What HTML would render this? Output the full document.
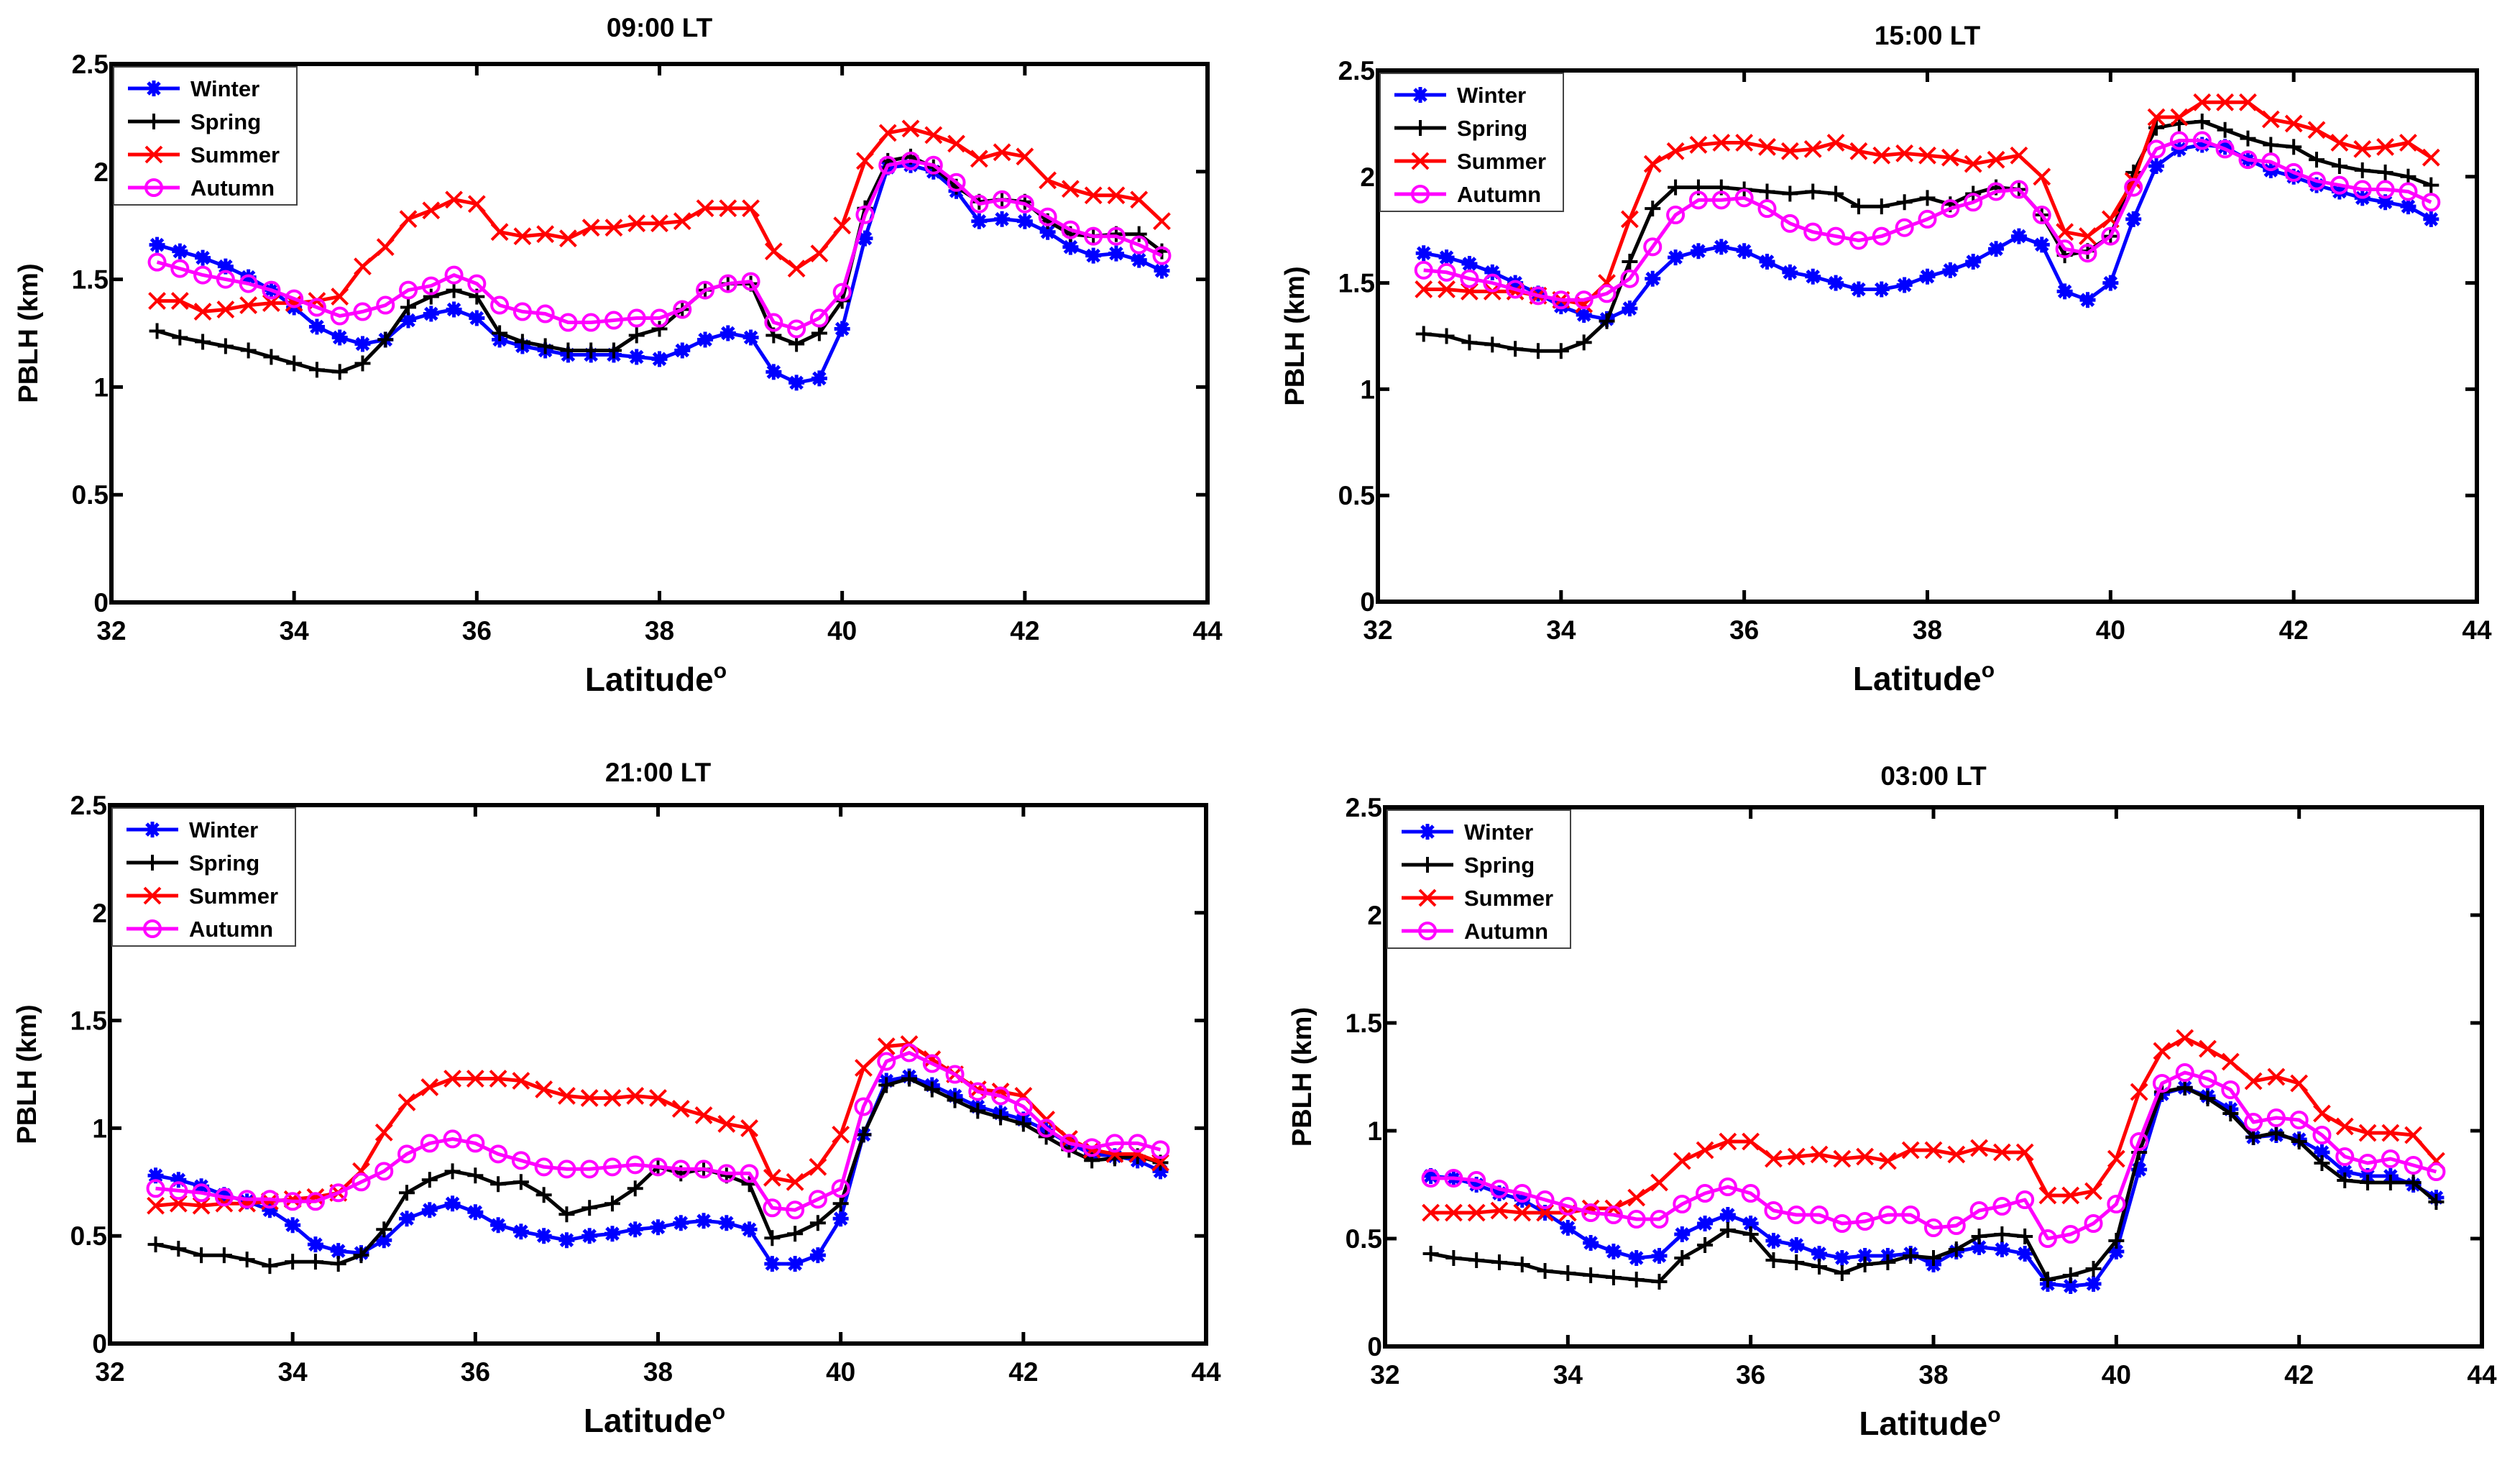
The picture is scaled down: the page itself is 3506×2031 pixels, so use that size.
<!DOCTYPE html>
<html><head><meta charset="utf-8"><style>
html,body{margin:0;padding:0;background:#fff;}
svg{display:block;font-family:"Liberation Sans",Arial,sans-serif;font-weight:bold;}
</style></head><body>
<svg id="fig" width="3506" height="2031" viewBox="0 0 3506 2031" xmlns="http://www.w3.org/2000/svg"></svg>
<script>
const latitudes = [];
for (let i = 0; i < 45; i++) latitudes.push(32.5 + i * 0.25);
const xTicks = [32,34,36,38,40,42,44];
const yTicks = [0,0.5,1,1.5,2,2.5];
const yTickLabels = ["0","0.5","1","1.5","2","2.5"];
const seasons = ["Winter","Spring","Summer","Autumn"];
const panelTitles = ["09:00 LT","15:00 LT","21:00 LT","03:00 LT"];

const p1Winter=[1.66,1.63,1.60,1.56,1.51,1.45,1.37,1.28,1.23,1.20,1.22,1.31,1.34,1.36,1.32,1.22,1.19,1.17,1.15,1.15,1.15,1.14,1.13,1.17,1.22,1.25,1.23,1.07,1.02,1.04,1.27,1.69,2.02,2.03,2.00,1.91,1.77,1.78,1.77,1.72,1.65,1.61,1.62,1.59,1.54];
const p1Spring=[1.26,1.23,1.21,1.19,1.17,1.14,1.11,1.08,1.07,1.11,1.22,1.37,1.42,1.45,1.42,1.25,1.21,1.19,1.17,1.17,1.17,1.24,1.27,1.36,1.45,1.48,1.48,1.24,1.20,1.25,1.40,1.83,2.05,2.07,2.02,1.93,1.86,1.87,1.86,1.77,1.71,1.70,1.71,1.71,1.63];
const p1Summer=[1.40,1.40,1.35,1.36,1.38,1.39,1.39,1.40,1.42,1.56,1.65,1.78,1.82,1.87,1.85,1.72,1.70,1.71,1.69,1.74,1.74,1.76,1.76,1.77,1.83,1.83,1.83,1.63,1.55,1.62,1.75,2.05,2.18,2.20,2.17,2.13,2.06,2.09,2.07,1.96,1.92,1.89,1.89,1.87,1.77];
const p1Autumn=[1.58,1.55,1.52,1.50,1.48,1.45,1.41,1.37,1.33,1.35,1.38,1.45,1.47,1.52,1.48,1.38,1.35,1.34,1.30,1.30,1.31,1.32,1.32,1.36,1.45,1.48,1.49,1.30,1.27,1.32,1.44,1.80,2.03,2.05,2.03,1.95,1.85,1.87,1.85,1.79,1.73,1.70,1.70,1.66,1.61];

const p2Winter=[1.64,1.62,1.59,1.55,1.50,1.45,1.39,1.35,1.33,1.38,1.52,1.62,1.65,1.67,1.65,1.60,1.55,1.53,1.50,1.47,1.47,1.49,1.53,1.56,1.60,1.66,1.72,1.68,1.46,1.42,1.50,1.80,2.05,2.13,2.15,2.14,2.08,2.03,2.00,1.96,1.93,1.90,1.88,1.86,1.80];
const p2Spring=[1.26,1.25,1.22,1.21,1.19,1.18,1.18,1.22,1.32,1.60,1.85,1.95,1.95,1.95,1.94,1.93,1.92,1.93,1.92,1.86,1.86,1.88,1.90,1.87,1.92,1.95,1.94,1.82,1.63,1.65,1.72,2.02,2.23,2.25,2.26,2.22,2.18,2.15,2.14,2.08,2.05,2.03,2.02,2.00,1.96];
const p2Summer=[1.47,1.47,1.46,1.46,1.46,1.44,1.42,1.40,1.50,1.80,2.06,2.12,2.15,2.16,2.16,2.14,2.12,2.13,2.16,2.12,2.10,2.11,2.10,2.09,2.06,2.08,2.10,2.00,1.74,1.72,1.80,1.98,2.28,2.28,2.35,2.35,2.35,2.27,2.25,2.22,2.16,2.13,2.14,2.16,2.09];
const p2Autumn=[1.56,1.55,1.52,1.50,1.47,1.44,1.42,1.42,1.45,1.52,1.67,1.82,1.89,1.89,1.90,1.85,1.78,1.74,1.72,1.70,1.72,1.76,1.80,1.85,1.88,1.93,1.94,1.82,1.66,1.64,1.72,1.95,2.13,2.17,2.17,2.13,2.08,2.07,2.02,1.98,1.96,1.94,1.94,1.93,1.88];

const p3Winter=[0.78,0.76,0.73,0.69,0.66,0.62,0.55,0.46,0.43,0.42,0.48,0.58,0.62,0.65,0.61,0.55,0.52,0.50,0.48,0.50,0.51,0.53,0.54,0.56,0.57,0.56,0.53,0.37,0.37,0.41,0.58,0.97,1.22,1.24,1.20,1.15,1.10,1.07,1.04,0.99,0.93,0.88,0.87,0.85,0.80];
const p3Spring=[0.46,0.44,0.41,0.41,0.39,0.36,0.38,0.38,0.37,0.41,0.53,0.70,0.76,0.80,0.78,0.74,0.75,0.69,0.60,0.63,0.65,0.72,0.82,0.79,0.81,0.78,0.74,0.49,0.51,0.56,0.65,0.97,1.20,1.23,1.18,1.13,1.08,1.05,1.02,0.96,0.90,0.85,0.86,0.87,0.84];
const p3Summer=[0.64,0.65,0.64,0.65,0.65,0.66,0.67,0.68,0.70,0.80,0.98,1.12,1.19,1.23,1.23,1.23,1.22,1.18,1.15,1.14,1.14,1.15,1.14,1.09,1.06,1.02,1.00,0.77,0.75,0.82,0.97,1.28,1.38,1.39,1.32,1.25,1.18,1.17,1.15,1.04,0.95,0.90,0.88,0.88,0.84];
const p3Autumn=[0.72,0.71,0.70,0.68,0.67,0.67,0.66,0.66,0.70,0.75,0.80,0.88,0.93,0.95,0.93,0.88,0.85,0.82,0.81,0.81,0.82,0.83,0.82,0.81,0.81,0.79,0.79,0.63,0.62,0.67,0.72,1.10,1.31,1.35,1.30,1.25,1.17,1.15,1.10,1.00,0.93,0.91,0.93,0.93,0.90];

const p4Winter=[0.79,0.78,0.75,0.71,0.68,0.62,0.55,0.48,0.44,0.41,0.42,0.52,0.57,0.61,0.57,0.49,0.47,0.43,0.41,0.42,0.42,0.43,0.38,0.44,0.46,0.45,0.43,0.29,0.28,0.29,0.44,0.82,1.17,1.20,1.16,1.10,0.97,0.98,0.96,0.90,0.81,0.79,0.79,0.75,0.69];
const p4Spring=[0.43,0.41,0.40,0.39,0.38,0.35,0.34,0.33,0.32,0.31,0.30,0.41,0.47,0.54,0.52,0.40,0.39,0.37,0.34,0.38,0.39,0.42,0.41,0.45,0.51,0.52,0.51,0.31,0.33,0.36,0.49,0.90,1.18,1.20,1.15,1.08,0.97,0.99,0.95,0.85,0.77,0.76,0.76,0.76,0.67];
const p4Summer=[0.62,0.62,0.62,0.63,0.62,0.62,0.62,0.64,0.64,0.69,0.76,0.86,0.91,0.95,0.95,0.87,0.88,0.89,0.87,0.88,0.86,0.91,0.91,0.89,0.92,0.90,0.90,0.70,0.70,0.72,0.87,1.18,1.37,1.43,1.38,1.32,1.23,1.25,1.22,1.08,1.02,0.99,0.99,0.98,0.86];
const p4Autumn=[0.78,0.78,0.77,0.73,0.71,0.68,0.65,0.62,0.61,0.59,0.59,0.66,0.71,0.74,0.71,0.63,0.61,0.61,0.57,0.58,0.61,0.61,0.55,0.56,0.63,0.65,0.68,0.50,0.52,0.57,0.66,0.95,1.22,1.27,1.24,1.19,1.04,1.06,1.05,0.98,0.88,0.85,0.87,0.84,0.81];

const panelSeries = [
  [p1Winter,p1Spring,p1Summer,p1Autumn],
  [p2Winter,p2Spring,p2Summer,p2Autumn],
  [p3Winter,p3Spring,p3Summer,p3Autumn],
  [p4Winter,p4Spring,p4Summer,p4Autumn]
];

const boxes = [
  {L:155,R:1680,T:89,B:838,ty:38},
  {L:1917,R:3446,T:98,B:837,ty:49},
  {L:153,R:1678,T:1120,B:1869,ty:1074},
  {L:1927,R:3453,T:1123,B:1873,ty:1079}
];
const colors = ["#0000ff","#000000","#ff0000","#ff00ff"];
const markers = ["star","plus","x","o"];
const NS = "http://www.w3.org/2000/svg";
const fig = document.getElementById("fig");

function mk(tag, attrs, parent){
  const e = document.createElementNS(NS, tag);
  for (const k in attrs) e.setAttribute(k, attrs[k]);
  parent.appendChild(e);
  return e;
}
function marker(kind, x, y, color, parent){
  const s = 11;
  const g = mk("g", {stroke: color, "stroke-width": 4, fill: "none"}, parent);
  if (kind === "plus") {
    mk("path", {d:`M${x-s},${y}H${x+s}M${x},${y-s}V${y+s}`}, g);
  } else if (kind === "x") {
    mk("path", {d:`M${x-s},${y-s}L${x+s},${y+s}M${x-s},${y+s}L${x+s},${y-s}`}, g);
  } else if (kind === "o") {
    mk("circle", {cx:x, cy:y, r:s}, g);
  } else {
    mk("path", {d:`M${x-s},${y}H${x+s}M${x},${y-s}V${y+s}M${x-8},${y-8}L${x+8},${y+8}M${x-8},${y+8}L${x+8},${y-8}`, "stroke-width":5}, g);
    mk("circle", {cx:x, cy:y, r:5, fill:color}, g);
  }
  return g;
}

boxes.forEach((b, pi) => {
  const xs = v => b.L + (v - 32) / 12 * (b.R - b.L);
  const ys = v => b.B - v / 2.5 * (b.B - b.T);
  const panel = mk("g", {}, fig);
  
  

  const title = mk("text", {x:(b.L+b.R)/2, y:b.ty+13, "text-anchor":"middle", "font-size":37}, panel);
  title.textContent = panelTitles[pi];
  
  

  // series
  panelSeries[pi].forEach((vals, si) => {
    const sg = mk("g", {}, panel);
    
    
    const d = vals.map((v,i)=> (i?"L":"M") + xs(latitudes[i]).toFixed(1) + "," + ys(v).toFixed(1)).join("");
    mk("path", {d:d, stroke:colors[si], "stroke-width":5, fill:"none", "stroke-linejoin":"round"}, sg);
    vals.forEach((v,i)=>{
      const m = marker(markers[si], xs(latitudes[i]), ys(v), colors[si], sg);
      
      
    });
  });

  // axes box
  const ax = mk("rect", {x:b.L, y:b.T, width:b.R-b.L, height:b.B-b.T, fill:"none", stroke:"#000", "stroke-width":6}, panel);
  
  

  xTicks.forEach(t => {
    const x = xs(t);
    mk("path", {d:`M${x},${b.B}V${b.B-16}M${x},${b.T}V${b.T+16}`, stroke:"#000", "stroke-width":5}, panel);
    const tl = mk("text", {x:x, y:b.B+52, "text-anchor":"middle", "font-size":37}, panel);
    tl.textContent = String(t);
    
    
  });
  yTicks.forEach((t, i) => {
    const y = ys(t);
    mk("path", {d:`M${b.L},${y}H${b.L+16}M${b.R},${y}H${b.R-16}`, stroke:"#000", "stroke-width":5}, panel);
    const tl = mk("text", {x:b.L-4, y:y+13, "text-anchor":"end", "font-size":37}, panel);
    tl.textContent = yTickLabels[i];
    
    
  });

  const xt = mk("text", {x:(b.L+b.R)/2 - 5, y:b.B+123, "text-anchor":"middle", "font-size":46}, panel);
  xt.textContent = "Latitude";
  const sup = mk("tspan", {dy:-18, "font-size":30}, xt);
  sup.textContent = "o";
  
  

  const cy = (b.T+b.B)/2;
  const yt = mk("text", {x:0, y:0, transform:`translate(${b.L-103},${cy}) rotate(-90)`, "text-anchor":"middle", "font-size":38}, panel);
  yt.textContent = "PBLH (km)";
  
  

  // legend
  const lg = mk("g", {}, panel);
  
  
  const lx = b.L + 3, ly = b.T + 4;
  mk("rect", {x:lx, y:ly, width:255, height:192, fill:"#fff", stroke:"#444", "stroke-width":2}, lg);
  seasons.forEach((s, si) => {
    const ry = ly + 30 + si * 46;
    const e = mk("g", {}, lg);
    
    
    mk("path", {d:`M${lx+20},${ry}H${lx+92}`, stroke:colors[si], "stroke-width":5}, e);
    marker(markers[si], lx+56, ry, colors[si], e);
    const t = mk("text", {x:lx+107, y:ry+11, "font-size":31}, e);
    t.textContent = s;
  });
});
</script>
</body></html>
